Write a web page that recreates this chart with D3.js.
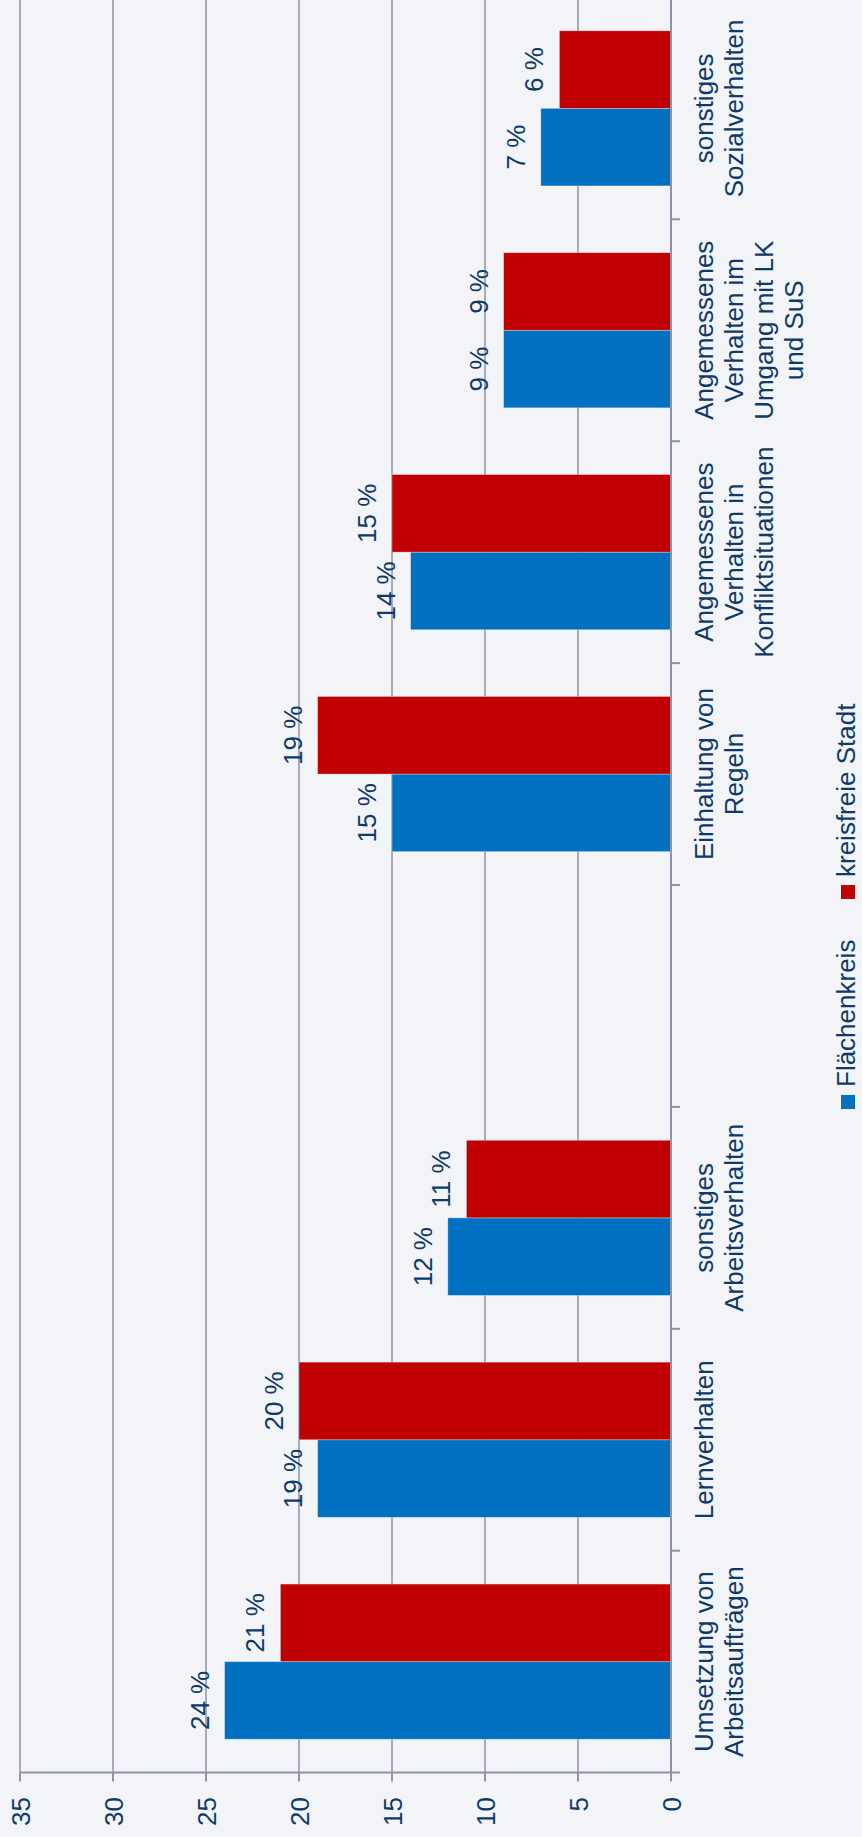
<!DOCTYPE html>
<html>
<head>
<meta charset="utf-8">
<script src="https://cdn.jsdelivr.net/npm/d3@7"></script>
<style>
  body { margin: 0; background: #f2f4f8; }
  text { font-family: "Liberation Sans", Arial, sans-serif; fill: #0e3a6b; }
</style>
</head>
<body>
<div id="chart"></div>
<script>
// categories in the order of the original (unrotated) chart, left to right
const categories = ["Umsetzung von Arbeitsaufträgen", "Lernverhalten", "sonstiges Arbeitsverhalten", "",
  "Einhaltung von Regeln", "Angemessenes Verhalten in Konfliktsituationen",
  "Angemessenes Verhalten im Umgang mit LK und SuS", "sonstiges Sozialverhalten"];
const labelLines = [
  ["Umsetzung von", "Arbeitsaufträgen"],
  ["Lernverhalten"],
  ["sonstiges", "Arbeitsverhalten"],
  [],
  ["Einhaltung von", "Regeln"],
  ["Angemessenes", "Verhalten in", "Konfliktsituationen"],
  ["Angemessenes", "Verhalten im", "Umgang mit LK", "und SuS"],
  ["sonstiges", "Sozialverhalten"]
];
const flaechenkreis = [24, 19, 12, null, 15, 14, 9, 7];
const kreisfreieStadt = [21, 20, 11, null, 19, 15, 9, 6];
const seriesNames = ["Flächenkreis", "kreisfreie Stadt"];
const seriesColors = ["#0070c0", "#c00000"];
const valueTicks = [0, 5, 10, 15, 20, 25, 30, 35];

const width = 862, height = 1837;
const fontSize = 26;

const svg = d3.select("#chart")
  .append("svg")
  .attr("width", width)
  .attr("height", height);

svg.append("rect")
  .attr("width", width)
  .attr("height", height)
  .attr("fill", "#f2f4f8");

// chart is drawn turned by 90 degrees: values run right to left, categories bottom to top
const x = d3.scaleLinear().domain([0, 35]).range([671, 20]);
const y = d3.scaleBand().domain(categories).range([1772.6, -2.6]).padding(0);
const ySub = d3.scaleBand().domain(["kreisfreie Stadt", "Flächenkreis"])
  .range([0, y.bandwidth()]).paddingOuter(0.43).paddingInner(0);

const axisY = y.range()[0];
const gridColor = "#8f93a3";

// gridlines
svg.append("g")
  .selectAll("line")
  .data(valueTicks.slice(1))
  .enter()
  .append("line")
  .attr("x1", d => x(d))
  .attr("x2", d => x(d))
  .attr("y1", 0)
  .attr("y2", axisY)
  .style("stroke", gridColor)
  .style("stroke-width", 1.5);

const rows = categories.map((c, i) => ({
  cat: c,
  values: [
    { key: "Flächenkreis", v: flaechenkreis[i], color: seriesColors[0] },
    { key: "kreisfreie Stadt", v: kreisfreieStadt[i], color: seriesColors[1] }
  ].filter(d => d.v != null)
}));

const group = svg.append("g")
  .selectAll("g")
  .data(rows)
  .enter()
  .append("g")
  .attr("transform", d => `translate(0,${y(d.cat)})`);

group.selectAll("rect")
  .data(d => d.values)
  .enter()
  .append("rect")
  .attr("x", d => x(d.v))
  .attr("y", d => ySub(d.key))
  .attr("width", d => x(0) - x(d.v))
  .attr("height", ySub.bandwidth())
  .style("fill", d => d.color)
  .style("stroke", "#ffffff")
  .style("stroke-opacity", 0.4)
  .style("stroke-width", 0.8);

group.selectAll("text")
  .data(d => d.values)
  .enter()
  .append("text")
  .attr("transform", d => `translate(${x(d.v) - 16},${ySub(d.key) + ySub.bandwidth() / 2}) rotate(-90)`)
  .attr("text-anchor", "middle")
  .style("font-size", fontSize + "px")
  .text(d => d.v + " %");

// category axis
svg.append("line")
  .attr("x1", x(0)).attr("x2", x(0))
  .attr("y1", 0).attr("y2", axisY)
  .style("stroke", gridColor)
  .style("stroke-width", 2);

const catTicks = categories.map(c => y(c));
svg.append("g")
  .selectAll("line")
  .data(catTicks)
  .enter()
  .append("line")
  .attr("x1", x(0)).attr("x2", x(0) + 9)
  .attr("y1", d => d).attr("y2", d => d)
  .style("stroke", gridColor)
  .style("stroke-width", 2);

const catLabel = svg.append("g")
  .selectAll("text")
  .data(categories)
  .enter()
  .append("text")
  .attr("transform", d => `translate(713,${y(d) + y.bandwidth() / 2}) rotate(-90)`)
  .attr("text-anchor", "middle")
  .style("font-size", fontSize + "px");

catLabel.selectAll("tspan")
  .data((d, i) => labelLines[i])
  .enter()
  .append("tspan")
  .attr("x", 0)
  .attr("y", (d, i) => i * 30)
  .text(d => d);

// value axis
svg.append("line")
  .attr("x1", x(35)).attr("x2", x(0) + 9)
  .attr("y1", axisY).attr("y2", axisY)
  .style("stroke", gridColor)
  .style("stroke-width", 2);

svg.append("g")
  .selectAll("line")
  .data(valueTicks)
  .enter()
  .append("line")
  .attr("x1", d => x(d)).attr("x2", d => x(d))
  .attr("y1", axisY).attr("y2", axisY + 9)
  .style("stroke", gridColor)
  .style("stroke-width", 2);

svg.append("g")
  .selectAll("text")
  .data(valueTicks)
  .enter()
  .append("text")
  .attr("transform", d => `translate(${x(d) + 10},1797) rotate(-90)`)
  .attr("text-anchor", "end")
  .style("font-size", fontSize + "px")
  .text(d => d);

// legend
const legendPos = [1087, 877];
const legend = svg.append("g")
  .selectAll("g")
  .data(seriesNames)
  .enter()
  .append("g")
  .attr("transform", (d, i) => `translate(0,${legendPos[i]})`);

legend.append("rect")
  .attr("x", 841)
  .attr("y", 8)
  .attr("width", 14)
  .attr("height", 14)
  .style("fill", (d, i) => seriesColors[i]);

legend.append("text")
  .attr("transform", "translate(855,0) rotate(-90)")
  .attr("text-anchor", "start")
  .style("font-size", fontSize + "px")
  .text(d => d);
</script>
</body>
</html>
